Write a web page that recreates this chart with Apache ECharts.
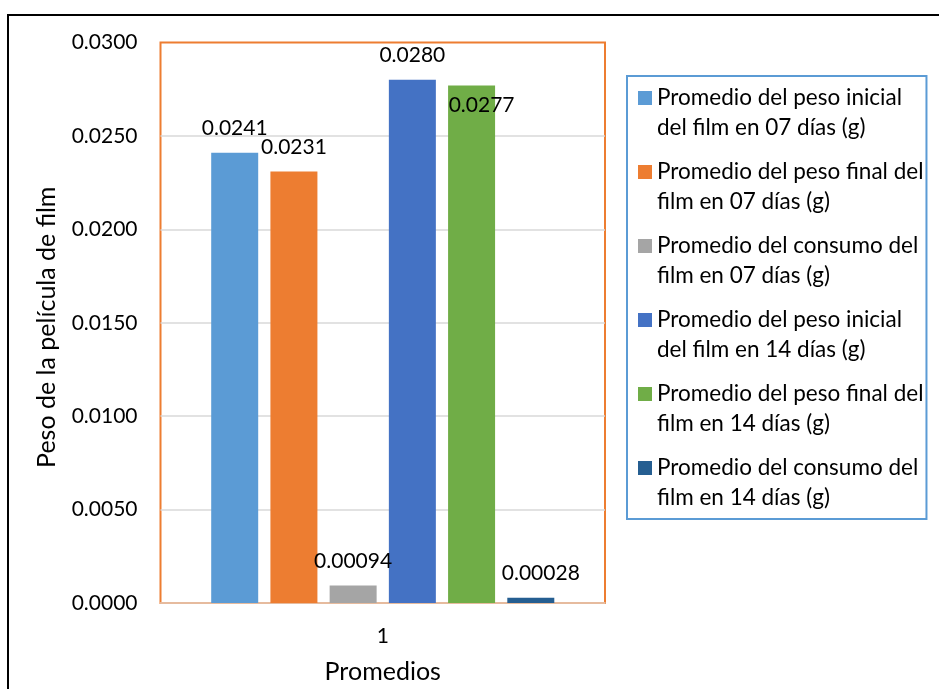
<!DOCTYPE html>
<html>
<head>
<meta charset="utf-8">
<script src="https://cdn.jsdelivr.net/npm/echarts@6/dist/echarts.min.js"></script>
<style>
  html, body { margin: 0; padding: 0; background: #ffffff; }
  #chart { width: 939px; height: 689px; }
</style>
</head>
<body>
<div id="chart"></div>
<script>
// Category on the x axis
const categories = ['1'];

// Series names (wrapped over two lines in the legend)
const seriesNames = [
  'Promedio del peso inicial\ndel film en 07 días (g)',
  'Promedio del peso final del\nfilm en 07 días (g)',
  'Promedio del consumo del\nfilm en 07 días (g)',
  'Promedio del peso inicial\ndel film en 14 días (g)',
  'Promedio del peso final del\nfilm en 14 días (g)',
  'Promedio del consumo del\nfilm en 14 días (g)'
];

// One average per series (g)
const inicial07 = [0.0241];
const final07 = [0.0231];
const consumo07 = [0.00094];
const inicial14 = [0.0280];
const final14 = [0.0277];
const consumo14 = [0.00028];

// Decimal places shown in each series' value label
const labelDecimals = [4, 4, 5, 4, 4, 5];

// Y axis ticks
const yMin = 0;
const yMax = 0.03;
const yStep = 0.005;

const seriesValues = [inicial07, final07, consumo07, inicial14, final14, consumo14];
const colors = ['#5B9BD5', '#ED7D31', '#A5A5A5', '#4472C4', '#70AD47', '#255E91'];
const FONT = 'Lato, "Open Sans", sans-serif';

// Per-series label placement (the 14-day final and consumption labels sit slightly right)
const labelPlacement = [
  { position: 'top', distance: 14, offset: [0, 0] },
  { position: 'top', distance: 14, offset: [0, 0] },
  { position: 'top', distance: 14, offset: [0, 0] },
  { position: 'top', distance: 14, offset: [0, 0] },
  { position: 'insideTop', distance: 9, offset: [10, 0] },
  { position: 'top', distance: 14, offset: [10, 0] }
];

const chart = echarts.init(document.getElementById('chart'), null, { renderer: 'canvas' });

const series = seriesValues.map((vals, i) => ({
  name: seriesNames[i],
  type: 'bar',
  data: vals,
  barWidth: 47,
  barGap: '26%',
  itemStyle: { color: colors[i] },
  label: {
    show: true,
    position: labelPlacement[i].position,
    distance: labelPlacement[i].distance,
    offset: labelPlacement[i].offset,
    color: '#000000',
    fontFamily: FONT,
    fontSize: 21,
    formatter: p => p.value.toFixed(labelDecimals[i])
  }
}));

chart.setOption({
  backgroundColor: '#ffffff',
  animation: false,
  color: colors,
  graphic: [{
    type: 'rect',
    silent: true,
    z: 100,
    shape: { x: 8, y: 15, width: 1200, height: 1000 },
    style: { fill: 'none', stroke: '#000000', lineWidth: 2 }
  }],
  grid: {
    left: 160.5,
    right: 334,
    top: 42.5,
    bottom: 83,
    show: true,
    borderColor: '#ED7D31',
    borderWidth: 2,
    backgroundColor: 'transparent'
  },
  legend: {
    orient: 'vertical',
    left: 627,
    top: 76,
    itemWidth: 14,
    itemHeight: 44,
    itemGap: 14,
    padding: [7, 3, 6, 11],
    borderColor: '#5B9BD5',
    borderWidth: 2,
    backgroundColor: '#ffffff',
    icon: 'path://M0,0H14V14H0ZM0,44H14',
    textStyle: {
      color: '#000000',
      fontFamily: FONT,
      fontSize: 22.5,
      lineHeight: 30
    },
    data: seriesNames
  },
  xAxis: {
    type: 'category',
    data: categories,
    name: 'Promedios',
    nameLocation: 'middle',
    nameGap: 56,
    nameTextStyle: { color: '#000000', fontFamily: FONT, fontSize: 25 },
    axisLine: { show: true, lineStyle: { color: '#E3CFC2', width: 1.5 } },
    axisTick: { show: false },
    axisLabel: { color: '#000000', fontFamily: FONT, fontSize: 21, margin: 23 }
  },
  yAxis: {
    type: 'value',
    min: yMin,
    max: yMax,
    interval: yStep,
    name: 'Peso de la película de film',
    nameLocation: 'middle',
    nameRotate: 90,
    nameGap: 101,
    nameTextStyle: { color: '#000000', fontFamily: FONT, fontSize: 25, padding: [0, 9, 0, 0] },
    axisLine: { show: false },
    axisTick: { show: false },
    splitLine: { show: true, showMaxLine: false, showMinLine: false, lineStyle: { color: '#D9D9D9', width: 1.5 } },
    axisLabel: {
      color: '#000000',
      fontFamily: FONT,
      fontSize: 21,
      margin: 23,
      formatter: v => v.toFixed(4)
    }
  },
  series: series
});
</script>
</body>
</html>
